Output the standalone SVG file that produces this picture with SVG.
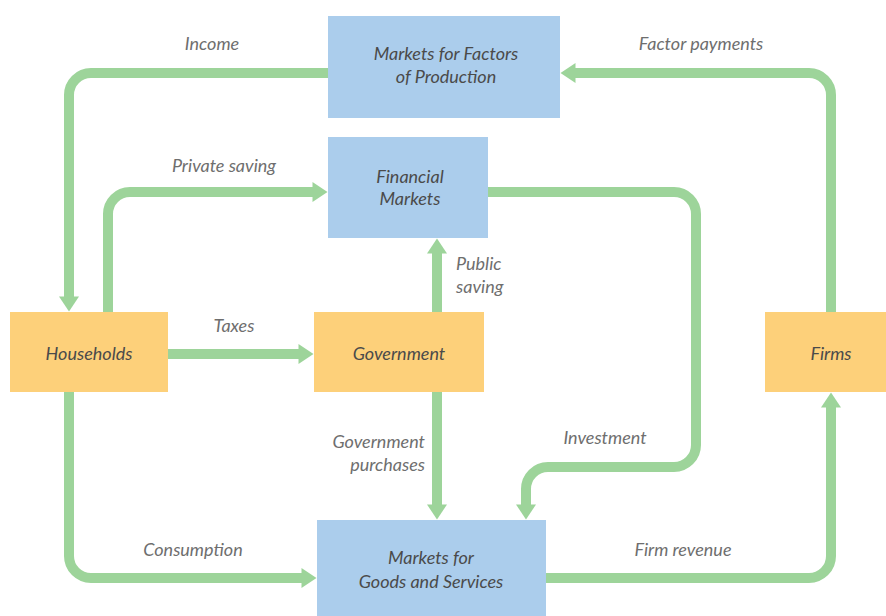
<svg xmlns="http://www.w3.org/2000/svg" width="886" height="616" viewBox="0 0 886 616">
<defs>
<marker id="ah" markerUnits="userSpaceOnUse" markerWidth="16" markerHeight="20" refX="0.5" refY="10" orient="auto" overflow="visible">
<path d="M0,0 L15,10 L0,20 Z" fill="#9dd49a"/>
</marker>
<style>
.c{fill:none;stroke:#9dd49a;stroke-width:10;}
.a{marker-end:url(#ah);}
.blue{fill:#abcdec;}
.orange{fill:#fdd07a;}
text{font-family:Lato,"Open Sans","Liberation Sans",sans-serif;font-style:italic;font-size:18px;}
.n{fill:#4a4a4a;text-anchor:middle;}
.l{fill:#6e6e6e;}
.m{text-anchor:middle;}
.e{text-anchor:end;}
</style>
</defs>
<rect width="886" height="616" fill="#ffffff"/>
<g id="connectors">
<path class="c a" d="M328,73 H91 A22,22 0 0 0 69,95 V297"/>
<path class="c a" d="M831,312 V95 A22,22 0 0 0 809,73 H575"/>
<path class="c a" d="M108,312 V214 A22,22 0 0 1 130,192 H313"/>
<path class="c a" d="M168,354 H299"/>
<path class="c a" d="M437,312 V253"/>
<path class="c a" d="M437,392 V505"/>
<path class="c a" d="M488,192 H674 A22,22 0 0 1 696,214 V445 A22,22 0 0 1 674,467 H548 A22,22 0 0 0 526,489 V505"/>
<path class="c a" d="M69,392 V556 A22,22 0 0 0 91,578 H302"/>
<path class="c a" d="M546,578 H809 A22,22 0 0 0 831,556 V407"/>
<text class="l m" x="212" y="50">Income</text>
<text class="l m" x="701" y="50">Factor payments</text>
<text class="l m" x="224" y="172">Private saving</text>
<text class="l m" x="234" y="332">Taxes</text>
<text class="l" x="456" y="270">Public</text>
<text class="l" x="456" y="293">saving</text>
<text class="l e" x="425" y="448">Government</text>
<text class="l e" x="425" y="471">purchases</text>
<text class="l m" x="605" y="444">Investment</text>
<text class="l m" x="193" y="556">Consumption</text>
<text class="l m" x="683" y="556">Firm revenue</text>
</g>
<g id="factors">
<rect class="blue" x="328" y="16" width="232" height="102"/>
<text class="n" x="446" y="60">Markets for Factors</text>
<text class="n" x="446" y="83">of Production</text>
</g>
<g id="financial">
<rect class="blue" x="328" y="137" width="160" height="101"/>
<text class="n" x="410" y="183">Financial</text>
<text class="n" x="410" y="205">Markets</text>
</g>
<g id="households">
<rect class="orange" x="10" y="312" width="158" height="80"/>
<text class="n" x="89" y="360">Households</text>
</g>
<g id="government">
<rect class="orange" x="314" y="312" width="170" height="80"/>
<text class="n" x="399" y="360">Government</text>
</g>
<g id="firms">
<rect class="orange" x="765" y="312" width="121" height="80"/>
<text class="n" x="831" y="360">Firms</text>
</g>
<g id="goods">
<rect class="blue" x="317" y="520" width="229" height="96"/>
<text class="n" x="431" y="564">Markets for</text>
<text class="n" x="431" y="588">Goods and Services</text>
</g>
</svg>
